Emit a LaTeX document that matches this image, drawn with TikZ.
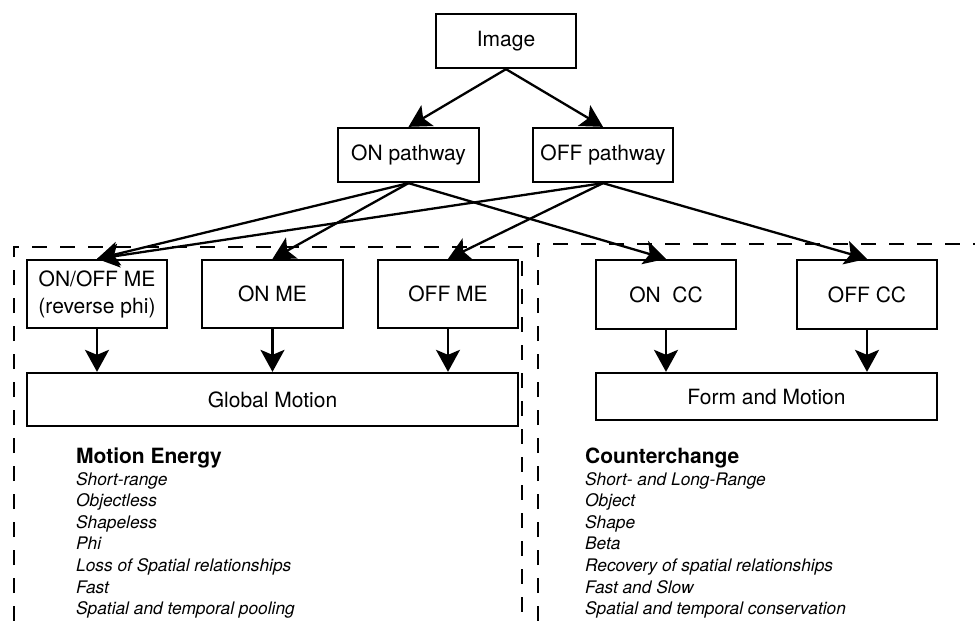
\documentclass[tikz,border=0pt]{standalone}
\usepackage{fontspec}
\setmainfont{TeX Gyre Heros}
\usetikzlibrary{arrows.meta}
\begin{document}
\begin{tikzpicture}[x=1pt,y=-1pt,
  box/.style 2 args={draw=black, line width=2.3pt, minimum width=#1, minimum height=#2,
    inner sep=0pt, align=center, font=\fontsize{21}{27}\selectfont},
  flow/.style={line width=2.3pt, -{Stealth[length=22pt,width=24pt,inset=5pt]}},
  frame/.style={line width=2.4pt, dash pattern=on 15pt off 13pt},
  heading/.style={anchor=base west, inner sep=0pt, font=\fontsize{21}{25}\selectfont\bfseries},
  item/.style={anchor=base west, inner sep=0pt, font=\fontsize{17.3}{21}\selectfont\itshape}]
\useasboundingbox (0,0) rectangle (975,621);

% dashed groupings
\draw[frame] (14,621) -- (14,247) -- (522,247) -- (522,621);
\draw[frame] (538,621) -- (538,244) -- (975,244);

% boxes
\node[box={140pt}{54pt}] (img) at (506,41) {Image};
\node[box={141pt}{54pt}] (onp) at (408.5,155) {ON pathway};
\node[box={140pt}{54pt}] (offp) at (603,155) {OFF pathway};

\node[box={140pt}{68pt}] (onoff) at (97,294) {ON/OFF ME\\(reverse phi)};
\node[box={141pt}{68pt}] (onme) at (272.5,294) {ON ME};
\node[box={140pt}{68pt}] (offme) at (448,294) {OFF ME};
\node[box={491pt}{53pt}] (glob) at (272.5,399.5) {Global Motion};

\node[box={140pt}{69pt}] (oncc) at (666,294.5) {ON~~CC};
\node[box={140pt}{69pt}] (offcc) at (867,294.5) {OFF CC};
\node[box={341pt}{47pt}] (form) at (766.5,396.5) {Form and Motion};

% connections
\draw[flow] (img.south) -- (onp.north);
\draw[flow] (img.south) -- (offp.north);
\draw[flow] (onp.south) -- (onoff.north);
\draw[flow] (onp.south) -- (onme.north);
\draw[flow] (onp.south) -- (oncc.north);
\draw[flow] (offp.south) -- (onoff.north);
\draw[flow] (offp.south) -- (offme.north);
\draw[flow] (offp.south) -- (offcc.north);
\draw[flow] (onoff.south) -- (onoff.south |- glob.north);
\draw[flow] (onme.south) -- (onme.south |- glob.north);
\draw[flow] (offme.south) -- (offme.south |- glob.north);
\draw[flow] (oncc.south) -- (oncc.south |- form.north);
\draw[flow] (offcc.south) -- (offcc.south |- form.north);

% property lists
\node[heading] (meh) at (76,463) {Motion Energy};
\foreach \t [count=\i] in {Short-range, Objectless, Shapeless, Phi,
    Loss of Spatial relationships, Fast, Spatial and temporal pooling}
  \node[item] (me\i) at (76,463.4+21.6*\i) {\t};

\node[heading] (cch) at (585,463) {Counterchange};
\foreach \t [count=\i] in {Short- and Long-Range, Object, Shape, Beta,
    Recovery of spatial relationships, Fast and Slow, Spatial and temporal conservation}
  \node[item] (cc\i) at (585,463.4+21.6*\i) {\t};
\end{tikzpicture}
\end{document}
